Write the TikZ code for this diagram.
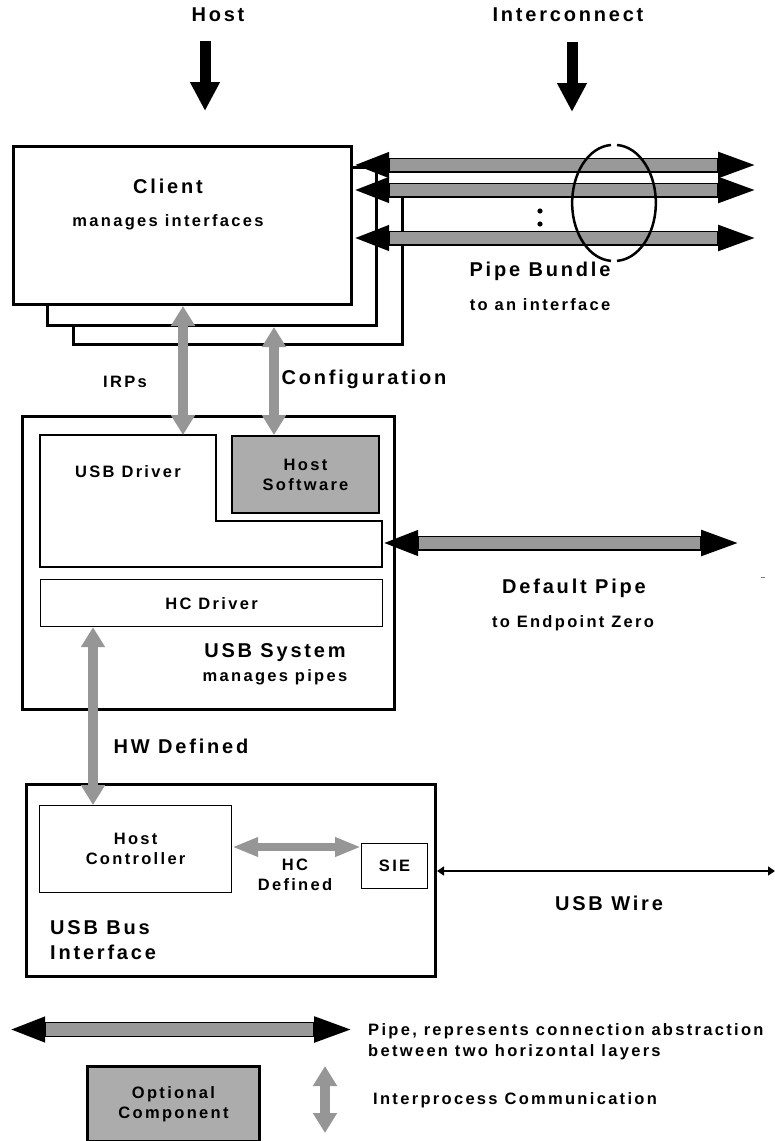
\documentclass[tikz,border=0pt]{standalone}
\usepackage{fontspec}
\setmainfont{Liberation Sans}[LetterSpace=14]
\usetikzlibrary{arrows.meta,positioning}
\definecolor{pipegray}{RGB}{153,153,153}
\definecolor{optgray}{RGB}{172,172,172}
\definecolor{ipcgray}{RGB}{150,150,150}
\tikzset{
  big/.style={font=\fontsize{20}{25}\selectfont\bfseries,align=center,inner sep=0pt},
  mid/.style={font=\fontsize{16.5}{20}\selectfont\bfseries,align=center,inner sep=0pt},
  frame/.style={draw,line width=3pt,fill=white,anchor=north west,inner sep=0pt},
  part/.style={mid,draw,line width=1.2pt,fill=white,anchor=north west},
  optional/.style={mid,draw,line width=2pt,fill=optgray,anchor=north west},
  down/.style={line width=11pt,-{Triangle[length=29pt,width=28pt]}},
  ipc/.style={draw=ipcgray,line width=10pt,{Triangle[length=20pt,width=23pt]}-{Triangle[length=20pt,width=23pt]}},
  hcipc/.style={draw=ipcgray,line width=8pt,{Triangle[length=26pt,width=18pt]}-{Triangle[length=26pt,width=18pt]}},
  pipe/.style={line width=15pt,{Triangle[length=36pt,width=23pt]}-{Triangle[length=40pt,width=23pt]},
    postaction={draw=pipegray,line width=12.6pt,arrows=-,shorten <=37pt,shorten >=41pt}},
  wire/.style={line width=1.5pt,{Triangle[length=7pt,width=9pt]}-{Triangle[length=7pt,width=9pt]}},
}
\begin{document}
\begin{tikzpicture}[x=1pt,y=-1pt]
  \useasboundingbox (0,0) rectangle (775,1141);
  % layers
  \node[big] (host) at (218,15) {Host};
  \node[big] (icon) at (568,15) {Interconnect};
  \coordinate (hostA) at (205,41);
  \coordinate (iconA) at (572,42);
  \draw[down] (hostA) -- ++(0,70);
  \draw[down] (iconA) -- ++(0,70);

  % client stack
  \foreach \n/\x/\y/\h in {3/72/188/155,2/46/166/158}
    \node[frame,minimum width=329pt,minimum height=\h pt] (client\n) at (\x,\y) {};
  \node[frame,minimum width=338pt,minimum height=158pt] (client) at (12,145) {};
  \node[big] (clientlbl) at (168,186) {Client};
  \node[mid] (clientsub) at (168,222) {manages interfaces};

  % pipe bundle
  \foreach \n/\y in {1/165,2/190,3/238}{
    \coordinate (pe\n) at (758,\y);
    \draw[pipe] (pe\n -| client.east) -- (pe\n);
  }
  \fill (540,211) circle (2.6pt) (540,224) circle (2.6pt);
  \coordinate (bundle) at (614,203);
  \draw[line width=2.5pt] (bundle) ++(-3,-58) arc[start angle=-93,end angle=-267,x radius=41,y radius=58];
  \draw[line width=2.5pt] (bundle) ++(3,-58) arc[start angle=-87,end angle=87,x radius=41,y radius=58];
  \node[big] (bundlelbl) at (540,271) {Pipe Bundle};
  \node[mid] (bundlesub) at (540,305) {to an interface};

  % USB system
  \node[frame,minimum width=372pt,minimum height=293pt] (usbsys) at (21,415) {};
  \draw[line width=1.2pt] (40,435) -- (216,435) -- (216,521) -- (382,521) -- (382,567) -- (40,567) -- cycle;
  \coordinate (drvse) at (382,567);
  \node[mid] (drvlbl) at (128,472) {USB Driver};
  \node[optional,minimum width=147pt,minimum height=77pt] (hostsw) at (231,435) {Host\\Software};
  \node[part,minimum width=342pt,minimum height=47pt] (hcdrv) at (40,579) {HC Driver};
  \node[big] (syslbl) at (275,653) {USB System};
  \node[mid] (syssub) at (275,677) {manages pipes};

  \coordinate (irp) at (183,0);
  \coordinate (cfg) at (274,0);
  \draw[ipc] (irp |- client.south) -- (irp |- hostsw.north);
  \draw[ipc] (cfg |- client2.south) -- (cfg |- hostsw.north);
  \node[mid] (irplbl) at (125,382) {IRPs};
  \node[big] (cfglbl) at (364,379) {Configuration};

  % default pipe
  \coordinate (defend) at (741,543);
  \draw[pipe] (defend -| drvse) -- (defend);
  \node[big] (deflbl) at (574,588) {Default Pipe};
  \node[mid] (defsub) at (573,623) {to Endpoint Zero};
  \draw[gray,line width=1pt] (761,577) -- (765,577);

  % bus interface
  \node[frame,minimum width=409pt,minimum height=192pt] (busif) at (25,783) {};
  \node[part,minimum width=192pt,minimum height=87pt] (hostctl) at (39,805) {Host\\Controller};
  \node[part,minimum width=66pt,minimum height=45pt] (sie) at (361,843) {SIE};
  \draw[ipc] (hcdrv.south -| 93,0) -- (hostctl.north -| 93,0);
  \node[big] (hwlbl) at (181,746) {HW Defined};
  \draw[hcipc] (hostctl.east |- 0,847) -- (sie.west |- 0,847);
  \node[mid] (hclbl) at (295,875) {HC\\Defined};
  \node[big,anchor=west,align=left] (buslbl) at (50,940) {USB Bus\\Interface};
  \coordinate (wireend) at (775,871);
  \draw[wire] (wireend -| busif.east) -- (wireend);
  \node[big] (wirelbl) at (609,903) {USB Wire};

  % legend
  \coordinate (legA) at (9,1029.5);
  \coordinate (legB) at (354,1029.5);
  \draw[pipe] (legA) -- (legB);
  \node[mid,anchor=west,align=left,font=\fontsize{16.5}{21}\selectfont\bfseries] (leglbl) at (368,1042) {Pipe, represents connection abstraction\\between two horizontal layers};
  \node[optional,line width=3pt,minimum width=172pt,minimum height=75pt] (optbox) at (86,1065) {Optional\\Component};
  \coordinate (ipcA) at (325,1066);
  \coordinate (ipcB) at (325,1133);
  \draw[ipc] (ipcA) -- (ipcB);
  \node[mid,anchor=west] (ipclbl) at (373,1100) {Interprocess Communication};
\end{tikzpicture}
\end{document}
